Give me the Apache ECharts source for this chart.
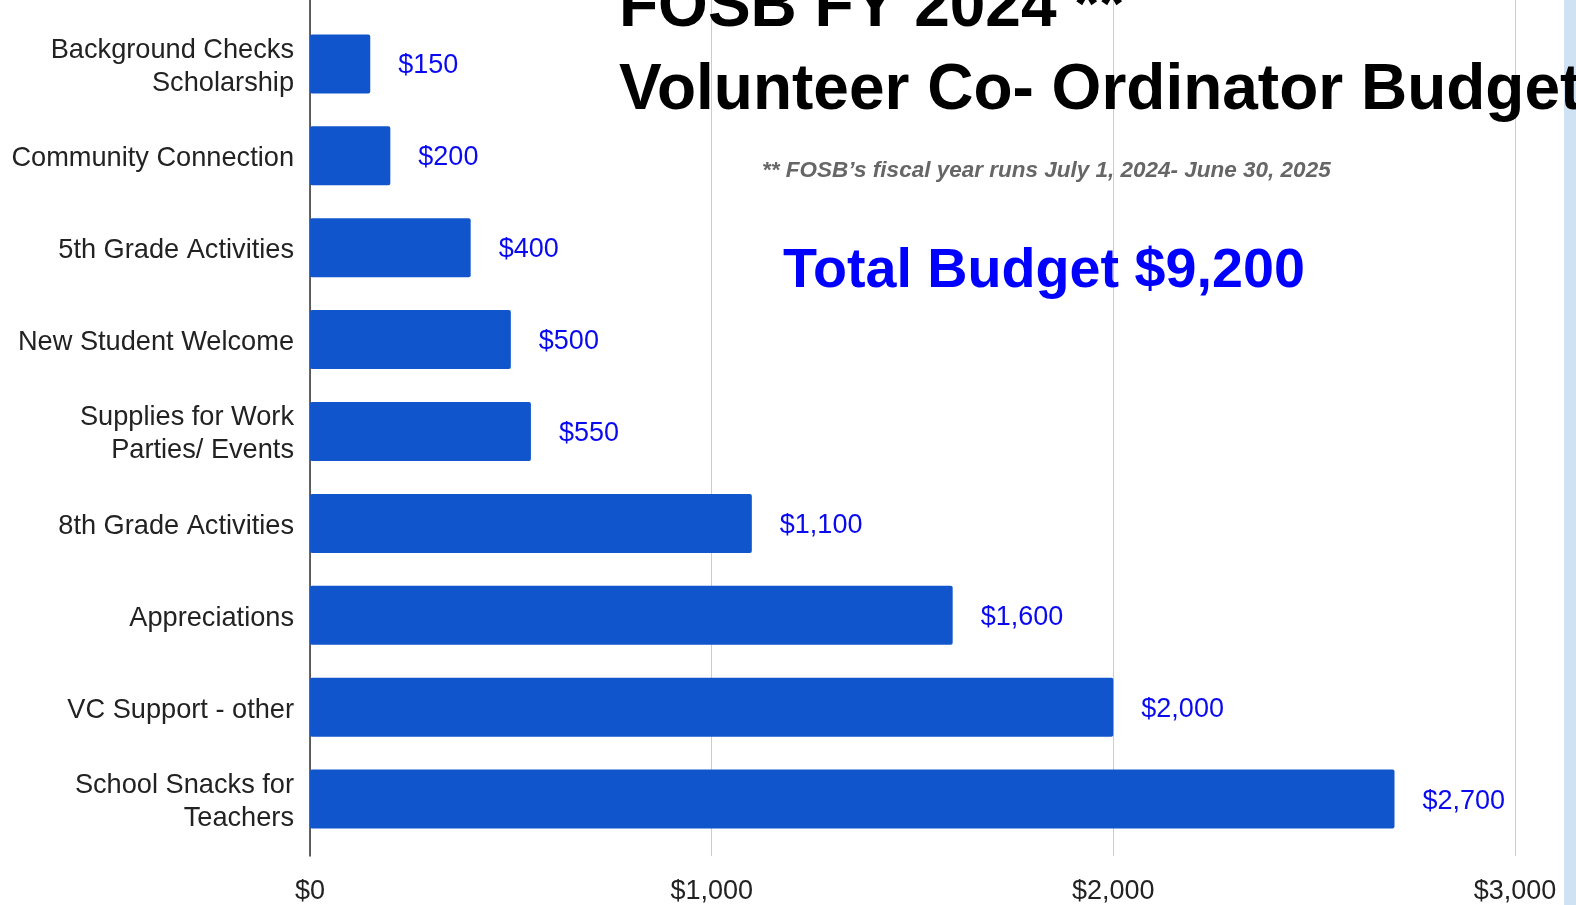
<!DOCTYPE html>
<html>
<head>
<meta charset="utf-8">
<script src="https://cdn.jsdelivr.net/npm/echarts@6/dist/echarts.min.js"></script>
<style>
  html, body { margin: 0; padding: 0; background: #fff; }
  #chart { width: 1576px; height: 905px; }
</style>
</head>
<body>
<div id="chart"></div>
<script>
var categories = [
    'Background Checks\nScholarship',
    'Community Connection',
    '5th Grade Activities',
    'New Student Welcome',
    'Supplies for Work\nParties/ Events',
    '8th Grade Activities',
    'Appreciations',
    'VC Support - other',
    'School Snacks for\nTeachers'
];
var budget = [150, 200, 400, 500, 550, 1100, 1600, 2000, 2700];
var axisMax = 3000;
var axisStep = 1000;
var titleText = 'FOSB FY 2024 **\nVolunteer Co- Ordinator Budget';
var noteText = '** FOSB\u2019s fiscal year runs July 1, 2024- June 30, 2025';
var totalText = 'Total Budget $9,200';

var FONT = '"Liberation Sans", Arial, Helvetica, sans-serif';

function money(v) {
    var s = String(Math.round(v));
    var re = /(\d)(\d{3})(,|$)/;
    while (re.test(s)) s = s.replace(re, '$1,$2$3');
    return '$' + s;
}

var chart = echarts.init(document.getElementById('chart'));

var option = {
    backgroundColor: '#ffffff',
    animation: false,
    title: [{
        text: titleText,
        left: 614,
        top: -38,
        z: 10,
        textStyle: {
            fontFamily: FONT,
            fontSize: 64,
            fontWeight: 'bold',
            color: '#000000',
            lineHeight: 83
        }
    }, {
        text: noteText,
        left: 757,
        top: 154,
        textStyle: {
            fontFamily: FONT,
            fontSize: 22.5,
            fontWeight: 'bold',
            fontStyle: 'italic',
            color: '#666666'
        }
    }, {
        text: totalText,
        left: 778,
        top: 239,
        textStyle: {
            fontFamily: FONT,
            fontSize: 55.7,
            fontWeight: 'bold',
            color: '#0000ff'
        }
    }],
    graphic: [{
        type: 'rect',
        right: 0,
        top: 0,
        shape: { width: 12, height: 905 },
        style: { fill: '#cfe2f3' },
        z: 1
    }],
    grid: [
        // bars
        { left: 310, right: 61, top: 18, bottom: 60 },
        // axis frame and vertical gridlines
        { left: 310, right: 61, top: -5, bottom: 45 },
        // category labels (sit a little lower than the bar centres)
        { left: 310, right: 61, top: 21, bottom: 57 }
    ],
    xAxis: [{
        gridIndex: 0,
        type: 'value',
        min: 0,
        max: axisMax,
        interval: axisStep,
        show: false
    }, {
        gridIndex: 1,
        type: 'value',
        min: 0,
        max: axisMax,
        interval: axisStep,
        axisLine: { show: false },
        axisTick: { show: false },
        splitLine: { show: true, lineStyle: { color: '#cccccc', width: 1 } },
        axisLabel: {
            margin: 22,
            fontFamily: FONT,
            fontSize: 27,
            color: '#222222',
            formatter: function (v) { return money(v); }
        }
    }, {
        gridIndex: 2,
        type: 'value',
        min: 0,
        max: axisMax,
        show: false
    }],
    yAxis: [{
        gridIndex: 0,
        type: 'category',
        data: categories,
        inverse: true,
        show: false
    }, {
        gridIndex: 1,
        type: 'value',
        min: 0,
        max: 1,
        axisLine: { show: true, lineStyle: { color: '#333333', width: 1.5 } },
        axisTick: { show: false },
        axisLabel: { show: false },
        splitLine: { show: false }
    }, {
        gridIndex: 2,
        type: 'category',
        data: categories,
        inverse: true,
        axisLine: { show: false },
        axisTick: { show: false },
        axisLabel: {
            margin: 16,
            fontFamily: FONT,
            fontSize: 27.2,
            lineHeight: 33,
            color: '#222222',
            align: 'right'
        }
    }],
    series: [{
        type: 'bar',
        xAxisIndex: 0,
        yAxisIndex: 0,
        data: budget,
        barWidth: 59,
        itemStyle: { color: '#1155cc', borderRadius: 2 },
        label: {
            show: true,
            position: 'right',
            distance: 28,
            offset: [0, 2],
            fontFamily: FONT,
            fontSize: 27,
            color: '#0a0af0',
            formatter: function (p) { return money(p.value); }
        },
        z: 3
    }]
};

chart.setOption(option);
</script>
</body>
</html>
